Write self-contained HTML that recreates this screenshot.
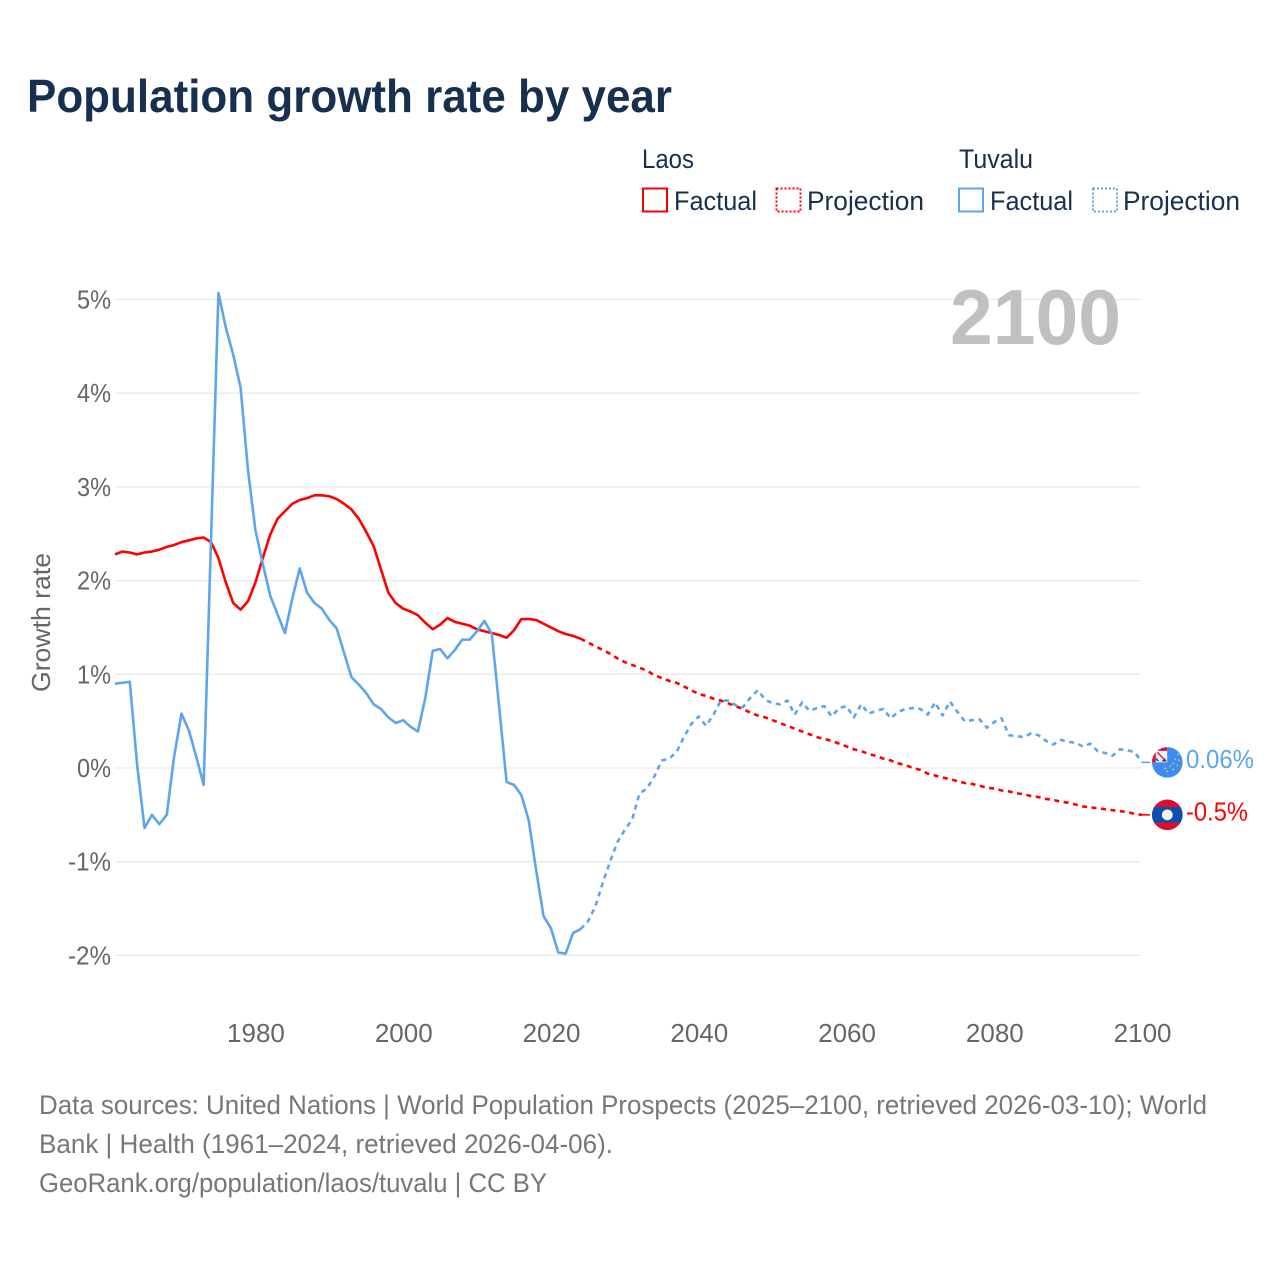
<!DOCTYPE html>
<html lang="en">
<head>
<meta charset="utf-8">
<title>Population growth rate by year</title>
<style>
html,body{margin:0;padding:0;background:#fff;}
svg{display:block;font-family:"Liberation Sans",sans-serif;}
</style>
</head>
<body>
<svg id="chart" xmlns="http://www.w3.org/2000/svg" width="1280" height="1280" viewBox="0 0 1280 1280">
  <rect x="0" y="0" width="1280" height="1280" fill="#ffffff"/>
  <text x="27" y="112" font-size="46" font-weight="700" fill="#18304f" textLength="645" lengthAdjust="spacingAndGlyphs">Population growth rate by year</text>

  <g font-size="27" fill="#18304f">
    <text x="642" y="168" textLength="52" lengthAdjust="spacingAndGlyphs">Laos</text>
    <text x="959" y="168" textLength="74" lengthAdjust="spacingAndGlyphs">Tuvalu</text>
    <rect x="643" y="188.5" width="24" height="23" fill="none" stroke="#ff0000" stroke-width="2"/>
    <text x="674" y="210" textLength="83" lengthAdjust="spacingAndGlyphs">Factual</text>
    <rect x="776.5" y="188.5" width="24" height="23" fill="none" stroke="#ff0000" stroke-width="2" stroke-dasharray="2 2"/>
    <text x="807" y="210" textLength="117" lengthAdjust="spacingAndGlyphs">Projection</text>
    <rect x="959" y="188.5" width="24" height="23" fill="none" stroke="#5da5ee" stroke-width="2"/>
    <text x="990" y="210" textLength="83" lengthAdjust="spacingAndGlyphs">Factual</text>
    <rect x="1093" y="188.5" width="24" height="23" fill="none" stroke="#5da5ee" stroke-width="2" stroke-dasharray="2 2"/>
    <text x="1123" y="210" textLength="117" lengthAdjust="spacingAndGlyphs">Projection</text>
  </g>

  <g id="grid"></g>
  <g id="yticks"></g>
  <g id="xticks"></g>
  <text transform="translate(50,622.5) rotate(-90)" text-anchor="middle" font-size="26" fill="#666666" textLength="139" lengthAdjust="spacingAndGlyphs">Growth rate</text>
  <text x="950" y="344" font-size="78" font-weight="700" fill="#c0c0c0" textLength="171" lengthAdjust="spacingAndGlyphs">2100</text>
  <g id="series"></g>

  <defs>
    <clipPath id="flag-clip"><circle cx="0" cy="0" r="15.3"/></clipPath>
    <clipPath id="jack-clip"><rect x="-15.3" y="-15.3" width="15.3" height="15.3"/></clipPath>
  </defs>

  <g id="flag-tuvalu">
    <g clip-path="url(#flag-clip)">
      <rect x="-16" y="-16" width="32" height="32" fill="#3d8cf0"/>
      <g clip-path="url(#jack-clip)">
        <rect x="-16" y="-16" width="16" height="16" fill="#f6f0f2"/>
        <path d="M-16 -15.3 L0 -15.3 L0 -11.5 L-16 -11.5 Z" fill="#d8143a"/>
        <rect x="-16" y="-11.5" width="4.5" height="11.5" fill="#d8143a"/>
        <path d="M-10 -10 L-1 -1" stroke="#d8143a" stroke-width="1.3" fill="none"/>
        <path d="M-6 -1 L-2 -1 L-2 -4 Z M-11 -2 L-8 -1 L-11 -5 Z" fill="#17306e"/>
      </g>
      <g fill="#d9cf5a">
        <circle cx="11" cy="-8" r="0.9"/><circle cx="8" cy="-3" r="0.9"/><circle cx="11.5" cy="-2" r="0.9"/>
        <circle cx="6" cy="1" r="0.9"/><circle cx="10" cy="3" r="0.9"/><circle cx="3" cy="4" r="0.9"/>
        <circle cx="6" cy="7" r="0.9"/><circle cx="0" cy="9" r="0.9"/><circle cx="-2" cy="6" r="0.9"/>
      </g>
    </g>
  </g>

  <g id="flag-laos">
    <g clip-path="url(#flag-clip)">
      <rect x="-16" y="-16" width="32" height="32" fill="#d9102f"/>
      <rect x="-16" y="-7.6" width="32" height="15.2" fill="#0a4fb0"/>
      <circle cx="0" cy="0" r="5.4" fill="#f2f2f2"/>
    </g>
  </g>

  <g id="endlabels" font-size="26"></g>

  <g font-size="27" fill="#777777">
    <text x="39" y="1114" textLength="1168" lengthAdjust="spacingAndGlyphs">Data sources: United Nations | World Population Prospects (2025–2100, retrieved 2026-03-10); World</text>
    <text x="39" y="1153" textLength="574" lengthAdjust="spacingAndGlyphs">Bank | Health (1961–2024, retrieved 2026-04-06).</text>
    <text x="39" y="1192" textLength="508" lengthAdjust="spacingAndGlyphs">GeoRank.org/population/laos/tuvalu | CC BY</text>
  </g>
</svg>
<script>
var yTickValues = [5, 4, 3, 2, 1, 0, -1, -2];
var yTickLabels = ['5%', '4%', '3%', '2%', '1%', '0%', '-1%', '-2%'];
var xTickValues = [1980, 2000, 2020, 2040, 2060, 2080, 2100];
var xTickLabels = ['1980', '2000', '2020', '2040', '2060', '2080', '2100'];
var factualStartYear = 1961;
var projectionStartYear = 2024;
var laosFactual = [2.28,2.31,2.30,2.28,2.30,2.31,2.33,2.36,2.38,2.41,2.43,2.45,2.46,2.41,2.24,1.98,1.76,1.69,1.78,1.98,2.24,2.49,2.66,2.74,2.82,2.86,2.88,2.91,2.91,2.90,2.87,2.82,2.76,2.66,2.52,2.37,2.12,1.87,1.76,1.70,1.67,1.63,1.55,1.48,1.53,1.60,1.56,1.54,1.52,1.48,1.46,1.44,1.42,1.39,1.47,1.59,1.59,1.58,1.54,1.50,1.46,1.43,1.41,1.38];
var tuvaluFactual = [0.90,0.91,0.92,0.03,-0.64,-0.50,-0.60,-0.50,0.12,0.58,0.40,0.12,-0.18,2.45,5.07,4.70,4.41,4.06,3.18,2.54,2.18,1.84,1.64,1.44,1.81,2.13,1.87,1.76,1.70,1.58,1.49,1.23,0.97,0.89,0.80,0.68,0.63,0.54,0.48,0.51,0.44,0.39,0.75,1.25,1.27,1.17,1.26,1.37,1.37,1.46,1.57,1.43,0.65,-0.15,-0.18,-0.29,-0.56,-1.09,-1.58,-1.71,-1.97,-1.98,-1.76,-1.72];
var laosProjection = [1.38,1.34,1.30,1.26,1.22,1.17,1.13,1.10,1.07,1.04,0.99,0.96,0.93,0.91,0.87,0.83,0.79,0.77,0.74,0.72,0.69,0.66,0.63,0.59,0.56,0.54,0.51,0.48,0.45,0.42,0.39,0.36,0.33,0.31,0.29,0.26,0.23,0.20,0.18,0.15,0.13,0.10,0.08,0.05,0.03,0.00,-0.02,-0.06,-0.08,-0.10,-0.12,-0.14,-0.16,-0.17,-0.19,-0.21,-0.22,-0.24,-0.25,-0.27,-0.28,-0.30,-0.31,-0.33,-0.34,-0.36,-0.37,-0.39,-0.41,-0.42,-0.43,-0.44,-0.45,-0.46,-0.47,-0.49,-0.50];
var tuvaluProjection = [-1.72,-1.64,-1.48,-1.23,-1.00,-0.79,-0.66,-0.55,-0.27,-0.22,-0.09,0.08,0.10,0.17,0.33,0.47,0.55,0.45,0.57,0.72,0.72,0.67,0.65,0.75,0.83,0.73,0.69,0.68,0.72,0.57,0.70,0.61,0.64,0.66,0.55,0.64,0.66,0.54,0.68,0.58,0.61,0.63,0.53,0.60,0.63,0.64,0.63,0.57,0.70,0.56,0.71,0.60,0.50,0.51,0.52,0.43,0.49,0.53,0.35,0.34,0.33,0.37,0.35,0.29,0.25,0.30,0.28,0.27,0.23,0.26,0.18,0.16,0.13,0.20,0.19,0.17,0.06];
var endValueLabels = ['-0.5%', '0.06%'];

var NS = 'http://www.w3.org/2000/svg';
var LEFT = 115, RIGHT = 1142, X0 = 1961, X1 = 2100;
var Y_ZERO = 768, Y_PER_UNIT = 93.7;
var RED = '#ff0000', BLUE = '#5da5ee';

function xScale(year) { return LEFT + (year - X0) * (RIGHT - LEFT) / (X1 - X0); }
function yScale(value) { return Y_ZERO - value * Y_PER_UNIT; }

function make(tag, attrs, parent) {
  var el = document.createElementNS(NS, tag);
  for (var k in attrs) el.setAttribute(k, attrs[k]);
  parent.appendChild(el);
  return el;
}

function linePath(startYear, values) {
  return values.map(function (v, i) {
    return (i ? 'L' : 'M') + xScale(startYear + i).toFixed(2) + ' ' + yScale(v).toFixed(2);
  }).join(' ');
}

var grid = document.getElementById('grid');
var yticks = document.getElementById('yticks');
var xticks = document.getElementById('xticks');
var series = document.getElementById('series');
var endlabels = document.getElementById('endlabels');

yTickValues.forEach(function (v, i) {
  var line = make('line', { x1: LEFT, x2: RIGHT - 1, y1: yScale(v), y2: yScale(v), stroke: '#e9e9e9', 'stroke-width': 1.3 }, grid);
  
  
  var label = yTickLabels[i];
  var t = make('text', { x: 111, y: yScale(v) + 9, 'text-anchor': 'end', 'font-size': 26, fill: '#666666',
    textLength: label.charAt(0) === '-' ? 43 : 34, lengthAdjust: 'spacingAndGlyphs' }, yticks);
  
  
  t.textContent = label;
});

xTickValues.forEach(function (year, i) {
  var t = make('text', { x: xScale(year) + 0.6, y: 1042, 'text-anchor': 'middle', 'font-size': 26, fill: '#666666' }, xticks);
  
  
  t.textContent = xTickLabels[i];
});

function drawLine(startYear, values, color, dash, name) {
  var attrs = { d: linePath(startYear, values), fill: 'none', stroke: color, 'stroke-width': 2.6, 'stroke-linejoin': 'round' };
  if (dash) attrs['stroke-dasharray'] = dash;
  var p = make('path', attrs, series);
  
  
}

drawLine(factualStartYear, laosFactual, RED, null, 'laos-factual-line');
drawLine(projectionStartYear, laosProjection, RED, '5 4.5', 'laos-projection-line');
drawLine(factualStartYear, tuvaluFactual, BLUE, null, 'tuvalu-factual-line');
drawLine(projectionStartYear, tuvaluProjection, BLUE, '5 4.5', 'tuvalu-projection-line');

function drawEnd(values, color, text, flagId, name) {
  var last = values[values.length - 1];
  var y = yScale(last);
  var leader = make('line', { x1: xScale(X1), x2: xScale(X1) + 8, y1: y, y2: y, stroke: color, 'stroke-width': 1.6 }, series);
  
  
  document.getElementById(flagId).setAttribute('transform', 'translate(1167.3,' + y.toFixed(2) + ')');
  var t = make('text', { x: 1186, y: y + 5.5, fill: color, textLength: text.charAt(0) === '-' ? 62 : 68, lengthAdjust: 'spacingAndGlyphs' }, endlabels);
  
  
  t.textContent = text;
}

drawEnd(laosProjection, RED, endValueLabels[0], 'flag-laos', 'laos');
drawEnd(tuvaluProjection, BLUE, endValueLabels[1], 'flag-tuvalu', 'tuvalu');
</script>
</body>
</html>
